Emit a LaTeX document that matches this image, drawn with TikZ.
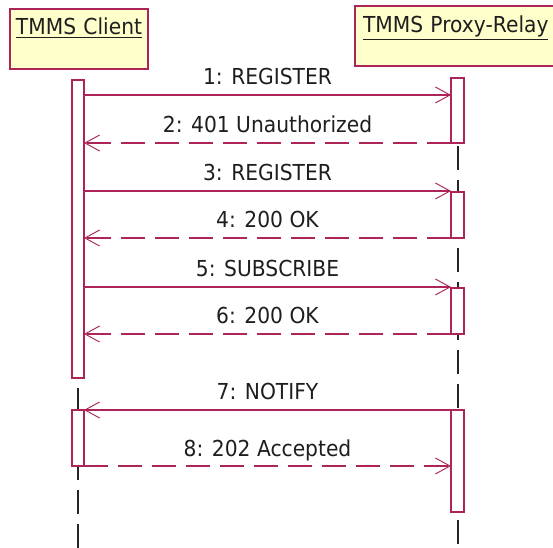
\documentclass[tikz,border=0pt]{standalone}
\usepackage{fontspec}
\setmainfont[FakeStretch=0.92]{DejaVu Sans}
\usetikzlibrary{arrows.meta}
\definecolor{umlred}{RGB}{172,36,88}
\definecolor{umlyellow}{RGB}{255,255,204}
\definecolor{umltext}{RGB}{30,30,30}
\newcommand{\umlfont}{\fontsize{16.5pt}{18pt}\selectfont}
\tikzset{
  headbox/.style={draw=umlred, fill=umlyellow, line width=0.9pt, inner ysep=0pt, outer sep=0pt,
    anchor=north west, align=left, text=umltext, font=\umlfont},
  actbox/.style={draw=umlred, fill=white, line width=0.9pt, inner sep=0pt, outer sep=0pt,
    anchor=north west},
  lifeline/.style={draw=black!85, line width=1.1pt, dash pattern=on 18pt off 7.5pt},
  call/.style={draw=umlred, line width=0.9pt,
    -{Straight Barb[length=11pt,width=12pt,line width=0.7pt]}},
  reply/.style={call, dash pattern=on 18pt off 7.5pt},
  msglabel/.style={midway, anchor=base, yshift=7.5pt, inner sep=0pt, text=umltext, font=\umlfont}
}
\begin{document}
\begin{tikzpicture}[x=0.75pt, y=-0.75pt]
\clip (0,0) rectangle (553,548);
\fill[white] (0,0) rectangle (553,548);
\node[headbox, inner xsep=4.5pt, text width=94.5pt, text height=19.5pt, text depth=25.5pt]
  (client) at (10,9) {\underline{TMMS Client}};
\node[headbox, inner xsep=6pt, text width=150pt, text height=20pt, text depth=25pt]
  (proxy) at (355,6) {\underline{TMMS Proxy-Relay}};
\coordinate (cend) at (78,548);
\coordinate (pend) at (458,548);
\coordinate (m1) at (0,95);
\coordinate (m2) at (0,143);
\coordinate (m3) at (0,191);
\coordinate (m4) at (0,238);
\coordinate (m5) at (0,287);
\coordinate (m6) at (0,334);
\coordinate (m7) at (0,410);
\coordinate (m8) at (0,466);
\draw[lifeline] (78,82) coordinate (cstart) -- (cend);
\draw[lifeline] (458,78) coordinate (pstart) -- (pend);
\node[actbox, minimum width=9pt, minimum height=223.5pt] (ca1) at (72,80) {};
\node[actbox, minimum width=9pt, minimum height=42pt] (ca2) at (72,410) {};
\node[actbox, minimum width=9.75pt, minimum height=48.75pt] (pa1) at (451,78) {};
\node[actbox, minimum width=9.75pt, minimum height=34.5pt] (pa2) at (451,192) {};
\node[actbox, minimum width=9.75pt, minimum height=34.5pt] (pa3) at (451,288) {};
\node[actbox, minimum width=9.75pt, minimum height=76.5pt] (pa4) at (451,410) {};
\draw[call] (ca1.east |- m1) -- (pa1.west |- m1) node[msglabel] {1: REGISTER};
\draw[reply] (pa1.west |- m2) -- (ca1.east |- m2) node[msglabel] {2: 401 Unauthorized};
\draw[call] (ca1.east |- m3) -- (pa2.west |- m3) node[msglabel] {3: REGISTER};
\draw[reply] (pa2.west |- m4) -- (ca1.east |- m4) node[msglabel] {4: 200 OK};
\draw[call] (ca1.east |- m5) -- (pa3.west |- m5) node[msglabel] {5: SUBSCRIBE};
\draw[reply] (pa3.west |- m6) -- (ca1.east |- m6) node[msglabel] {6: 200 OK};
\draw[call] (pa4.west |- m7) -- (ca2.east |- m7) node[msglabel] {7: NOTIFY};
\draw[reply] (ca2.east |- m8) -- (pa4.west |- m8) node[msglabel] {8: 202 Accepted};
\end{tikzpicture}
\end{document}
